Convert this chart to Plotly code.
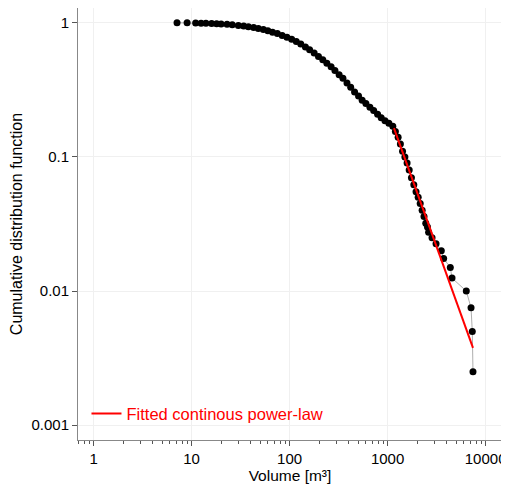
import plotly.graph_objects as go

volume = [7.1, 9.0, 11, 12.5, 14, 16, 18, 20, 23, 26, 30, 34, 38, 43, 48, 54, 60, 67, 75, 84,
          94, 105, 117, 130, 145, 160, 178, 197, 218, 240, 265, 290, 320, 350, 385, 420, 460,
          505, 550, 600, 660, 720, 790, 860, 940, 1030, 1130, 1200, 1280, 1350, 1420, 1500,
          1580, 1660, 1750, 1850, 1950, 2050, 2150, 2250, 2350, 2450, 2550,
          2620, 2840, 3120, 3530, 3730, 4360, 4540, 6350, 7100, 7310, 7430]
ccdf = [1.0, 0.998, 0.995, 0.993, 0.99, 0.987, 0.984, 0.98, 0.975, 0.968, 0.955, 0.945, 0.935,
        0.92, 0.905, 0.89, 0.87, 0.85, 0.83, 0.805, 0.78, 0.755, 0.725, 0.695, 0.66, 0.63, 0.595,
        0.56, 0.53, 0.50, 0.47, 0.44, 0.41, 0.385, 0.355, 0.33, 0.305, 0.285, 0.265, 0.25, 0.235,
        0.222, 0.208, 0.196, 0.186, 0.178, 0.169, 0.155, 0.14, 0.125, 0.11, 0.1, 0.09, 0.08, 0.07,
        0.062, 0.055, 0.05, 0.045, 0.04, 0.036, 0.032, 0.03,
        0.0275, 0.025, 0.0225, 0.02, 0.0175, 0.015, 0.0125, 0.01, 0.0075, 0.005, 0.0025]
fit_x = [1160, 7430]
fit_y = [0.164, 0.00377]

fig = go.Figure()
fig.add_trace(go.Scatter(x=volume, y=ccdf, mode="lines+markers", showlegend=False,
                         line=dict(color="#999999", width=0.8),
                         marker=dict(color="black", size=7)))
fig.add_trace(go.Scatter(x=fit_x, y=fit_y, mode="lines", name="Fitted continous power-law",
                         line=dict(color="red", width=2)))
axis_common = dict(type="log", showline=True, linecolor="#888888", mirror=True,
                   ticks="outside", ticklen=5, tickcolor="#555555", automargin=False,
                   showgrid=True, gridcolor="#f0f0f0", zeroline=False,
                   tickfont=dict(size=15, color="black"))
fig.update_xaxes(**axis_common, range=[-0.159, 4.167], tickvals=[1, 10, 100, 1000, 10000],
                 ticktext=["1", "10", "100", "1000", "10000"],
                 minor=dict(ticks="outside", ticklen=3, tickcolor="#555555", showgrid=False, dtick="D1"),
                 title=dict(text="Volume [m³]", font=dict(size=15.5, color="black"), standoff=0))
fig.update_yaxes(**axis_common, range=[-3.11, 0.11], tickvals=[1, 0.1, 0.01, 0.001],
                 ticktext=["1", "0.1", "0.01", "0.001"],
                 title=dict(text="Cumulative distribution function", font=dict(size=16, color="black"), standoff=4))
fig.update_layout(width=501, height=476, plot_bgcolor="white", paper_bgcolor="white",
                  margin=dict(l=70, r=7, t=0, b=44),
                  font=dict(family="Liberation Sans, Arial, sans-serif"),
                  legend=dict(x=0.02, y=0.02, xanchor="left", yanchor="bottom",
                              bgcolor="rgba(0,0,0,0)", font=dict(size=16.5, color="red")))
fig.write_html("out.html")
